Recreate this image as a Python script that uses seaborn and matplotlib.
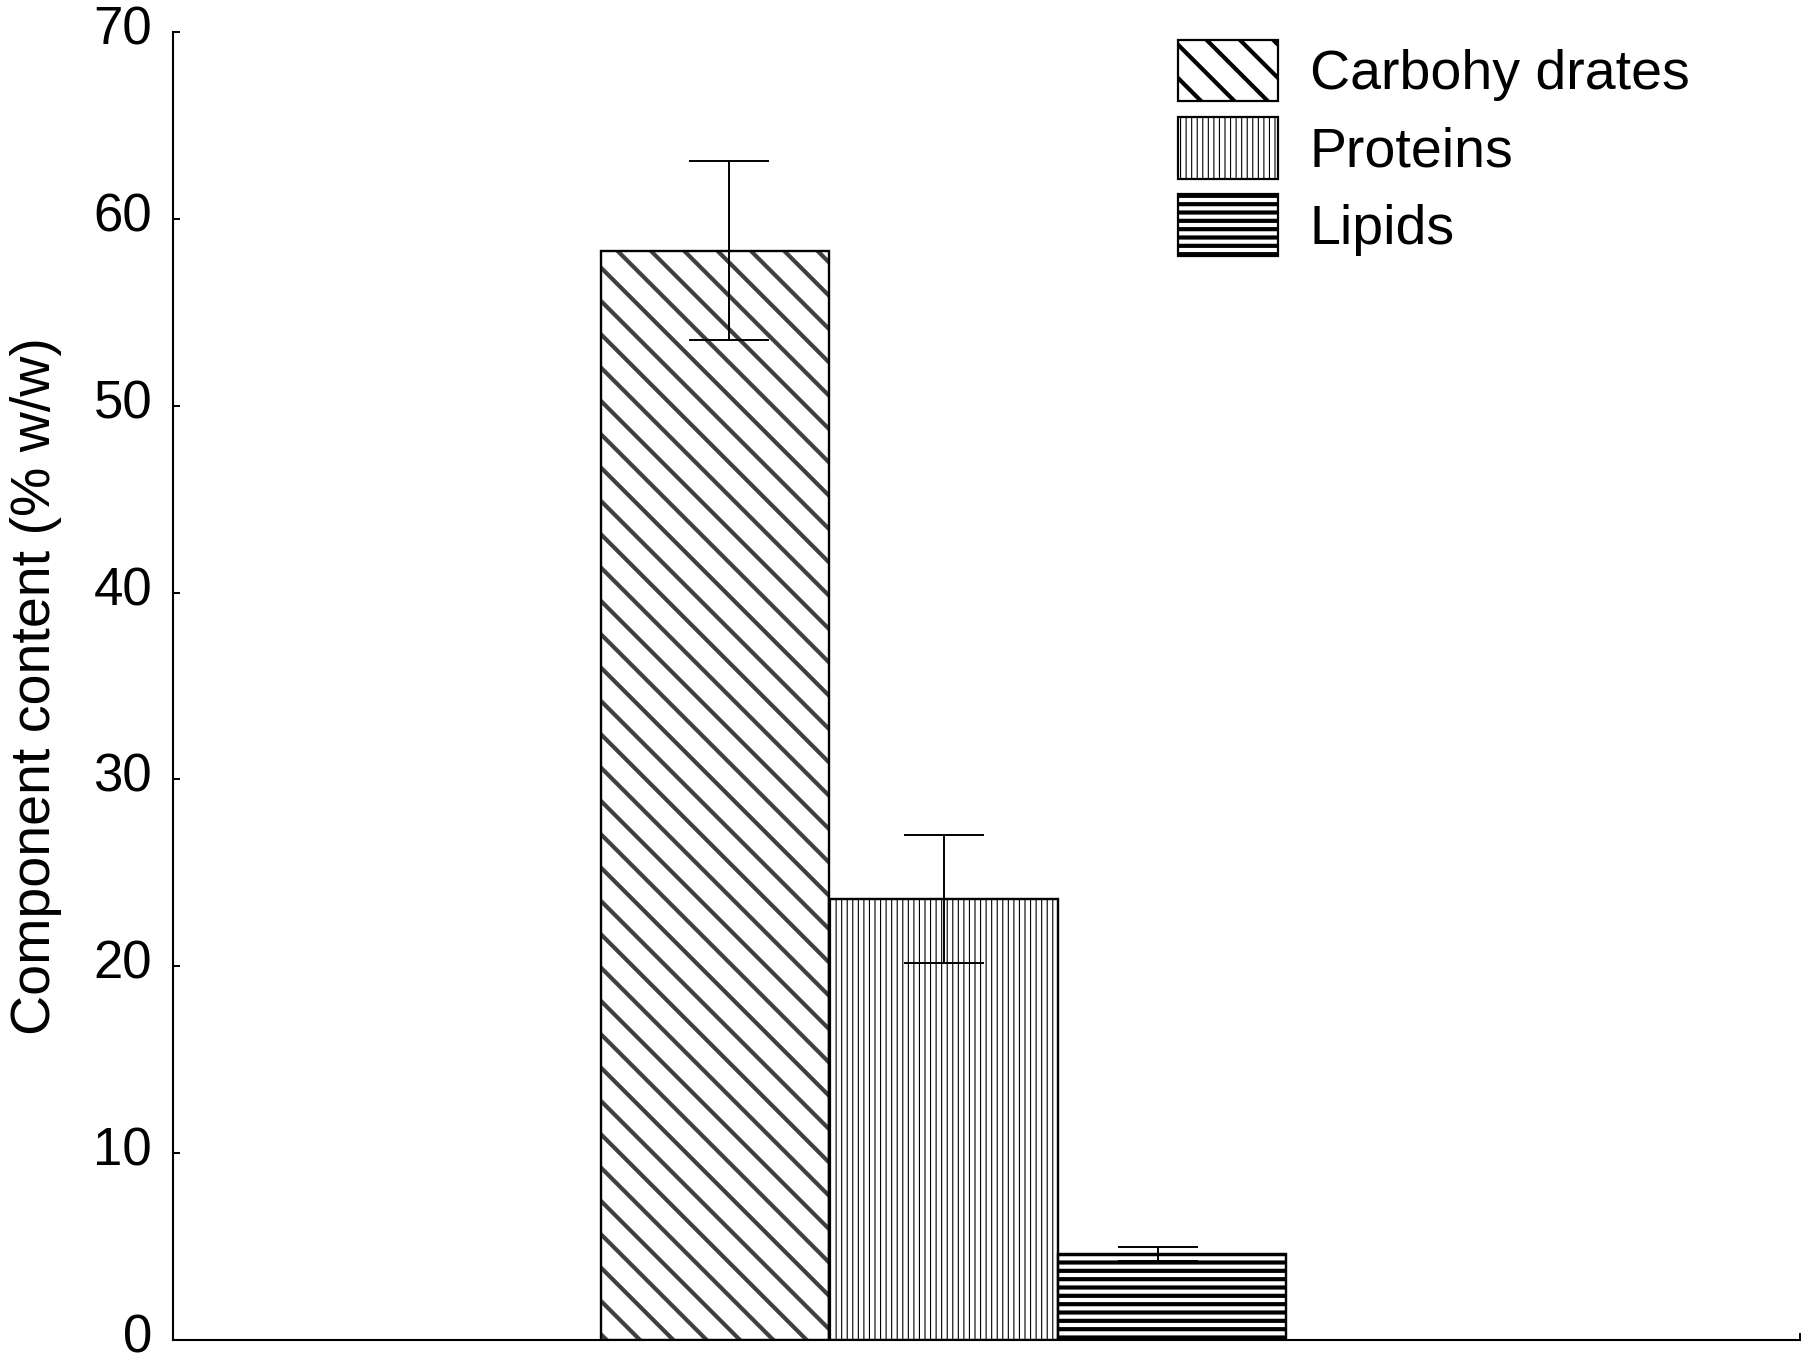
import matplotlib
matplotlib.use("Agg")
import matplotlib.pyplot as plt
import matplotlib.transforms as mtransforms
import seaborn as sns
import pandas as pd

# ---- data ----
samples = ["Sample"]
components = ["Carbohy drates", "Proteins", "Lipids"]
values = [58.3, 23.6, 4.6]
errors = [4.8, 3.4, 0.4]
yticks = [0, 10, 20, 30, 40, 50, 60, 70]
ylabel = "Component content (% w/w)"

# ---- style ----
hatches = ["\\", "|||", "--"]
hatch_lw = [3.0, 0.8, 3.0]
hatch_cols = ["#404040", "black", "black"]
errbar_spread = 0.94
fs_tick = 38
fs_text = 40

sns.set_style("ticks")
plt.rcParams["font.family"] = ["Liberation Sans", "DejaVu Sans"]
plt.rcParams["text.color"] = "black"
plt.rcParams["axes.labelcolor"] = "black"
plt.rcParams["xtick.color"] = "black"
plt.rcParams["ytick.color"] = "black"
plt.rcParams["hatch.linewidth"] = 1.0

df = pd.DataFrame({"sample": samples * len(components),
                   "component": components,
                   "value": values})

fig = plt.figure(figsize=(18.09, 13.59), dpi=100)
ax = fig.add_axes([0.0956, 0.014, 0.8994, 0.9625])

sns.barplot(data=df, x="sample", y="value", hue="component",
            hue_order=components,
            palette={c: "white" for c in components},
            errorbar=None, width=0.8, legend=False, saturation=1, ax=ax)

bars = list(ax.patches)[:len(components)]


def with_hatch_lw(artist, lw):
    orig = artist.draw

    def draw(renderer, *a, **k):
        with plt.rc_context({"hatch.linewidth": lw}):
            return orig(renderer, *a, **k)
    artist.draw = draw


def style_patch(p, i):
    p.set_facecolor("white")
    p.set_edgecolor(hatch_cols[i])
    p.set_hatch(hatches[i])
    p.set_linewidth(1.6)
    if hasattr(p, "set_hatch_linewidth"):
        p.set_hatch_linewidth(hatch_lw[i])
    else:
        p._hatch_linewidth = hatch_lw[i]
    with_hatch_lw(p, hatch_lw[i])


for i, p in enumerate(bars):
    style_patch(p, i)

# black outlines on top of the hatched bars
for p in bars:
    ax.add_patch(plt.Rectangle((p.get_x(), p.get_y()), p.get_width(), p.get_height(),
                               fill=False, edgecolor="black", linewidth=1.6,
                               zorder=p.get_zorder() + 0.1))

centers = [p.get_x() + p.get_width() / 2 for p in bars]
errx = [c * errbar_spread for c in centers]
ax.errorbar(errx, values, yerr=errors, fmt="none", ecolor="black",
            elinewidth=1.4, capsize=29, capthick=1.4, zorder=5)

ax.set_xlim(-0.9, 1.0)
ax.set_ylim(0, 70)
ax.set_yticks(yticks)
ax.set_xticks([0, 1])
ax.set_xticklabels(["", ""])
ax.set_xlabel("")

for s in ["top", "right"]:
    ax.spines[s].set_visible(False)
for s in ["left", "bottom"]:
    ax.spines[s].set_linewidth(1.5)
    ax.spines[s].set_color("black")

ax.tick_params(axis="both", direction="in", length=5, width=1.4,
               labelsize=fs_tick, pad=15, color="black", labelcolor="black")

shift = mtransforms.ScaledTranslation(0, 7 / 100, fig.dpi_scale_trans)
for lab in ax.get_yticklabels():
    lab.set_transform(lab.get_transform() + shift)

ax.set_ylabel(ylabel, fontsize=fs_text, color="black")
ax.yaxis.set_label_coords(-0.068, 0.5)

leg = ax.legend(handles=bars, labels=components, loc="upper left",
                bbox_to_anchor=(0.6175, 0.994), frameon=False, fontsize=fs_text,
                handlelength=1.8, handleheight=1.33, labelspacing=0.28,
                handletextpad=0.575, borderpad=0, borderaxespad=0)
for i, p in enumerate(leg.get_patches()):
    style_patch(p, i)
    p.set_edgecolor("black")
    if hasattr(p, "set_hatch_color"):
        p.set_hatch_color(hatch_cols[i])
for t in leg.get_texts():
    t.set_color("black")

fig.savefig("out.png", dpi=100)
